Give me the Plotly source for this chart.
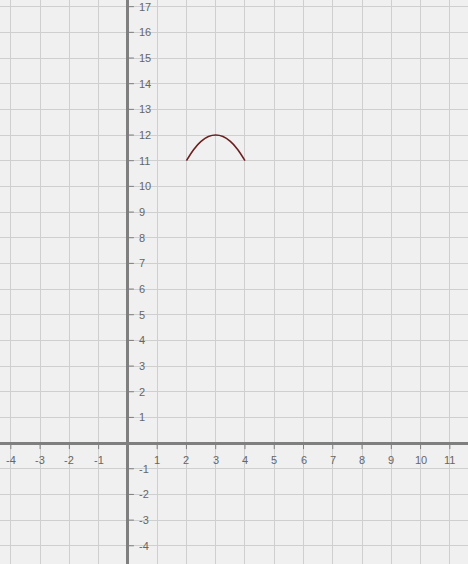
import plotly.graph_objects as go

# curve points
curve_x = [2.0, 2.25, 2.5, 2.75, 3.0, 3.25, 3.5, 3.75, 4.0]
curve_y = [11.0, 11.44, 11.75, 11.94, 12.0, 11.94, 11.75, 11.44, 11.0]

x_ticks = [-4, -3, -2, -1, 1, 2, 3, 4, 5, 6, 7, 8, 9, 10, 11]
y_ticks = [-4, -3, -2, -1, 1, 2, 3, 4, 5, 6, 7, 8, 9, 10, 11, 12, 13, 14, 15, 16, 17]

axisColor = '#7f7f7f'
gridColor = '#cfcfcf'
labelColor = '#666666'

fig = go.Figure()
fig.add_trace(go.Scatter(x=curve_x, y=curve_y, mode='lines', line_shape='spline',
                         line=dict(color='#6b2020', width=1.6), hoverinfo='skip'))

shapes = []
annotations = []
for t in x_ticks:
    shapes.append(dict(type='line', xref='x', yref='y', ysizemode='pixel', yanchor=0,
                       x0=t, x1=t, y0=1, y1=-6, line=dict(color=axisColor, width=1)))
    annotations.append(dict(x=t, y=0, xref='x', yref='y', text=str(t), showarrow=False,
                            yshift=-17, font=dict(color=labelColor, size=11, family='Arial')))
for t in y_ticks:
    shapes.append(dict(type='line', xref='x', yref='y', xsizemode='pixel', xanchor=0,
                       y0=t, y1=t, x0=-1, x1=6, line=dict(color=axisColor, width=1)))
    annotations.append(dict(x=0, y=t, xref='x', yref='y', text=str(t), showarrow=False,
                            xanchor='left', xshift=9, font=dict(color=labelColor, size=11, family='Arial')))

fig.update_layout(
    width=468, height=564,
    margin=dict(l=0, r=0, t=0, b=0),
    paper_bgcolor='#f0f0f0', plot_bgcolor='#f0f0f0',
    showlegend=False,
    shapes=shapes, annotations=annotations,
    xaxis=dict(range=[-4.37, 11.62], dtick=1, tick0=0, showticklabels=False,
               showgrid=True, gridcolor=gridColor, gridwidth=1,
               zeroline=True, zerolinecolor=axisColor, zerolinewidth=3, fixedrange=True),
    yaxis=dict(range=[-4.71, 17.26], dtick=1, tick0=0, showticklabels=False,
               showgrid=True, gridcolor=gridColor, gridwidth=1,
               zeroline=True, zerolinecolor=axisColor, zerolinewidth=3, fixedrange=True),
)

# drop the default page margin so the figure fills the window
fig.write_html("out.html", config=dict(displayModeBar=False),
               post_script="document.body.style.margin='0';document.body.style.overflow='hidden';")
